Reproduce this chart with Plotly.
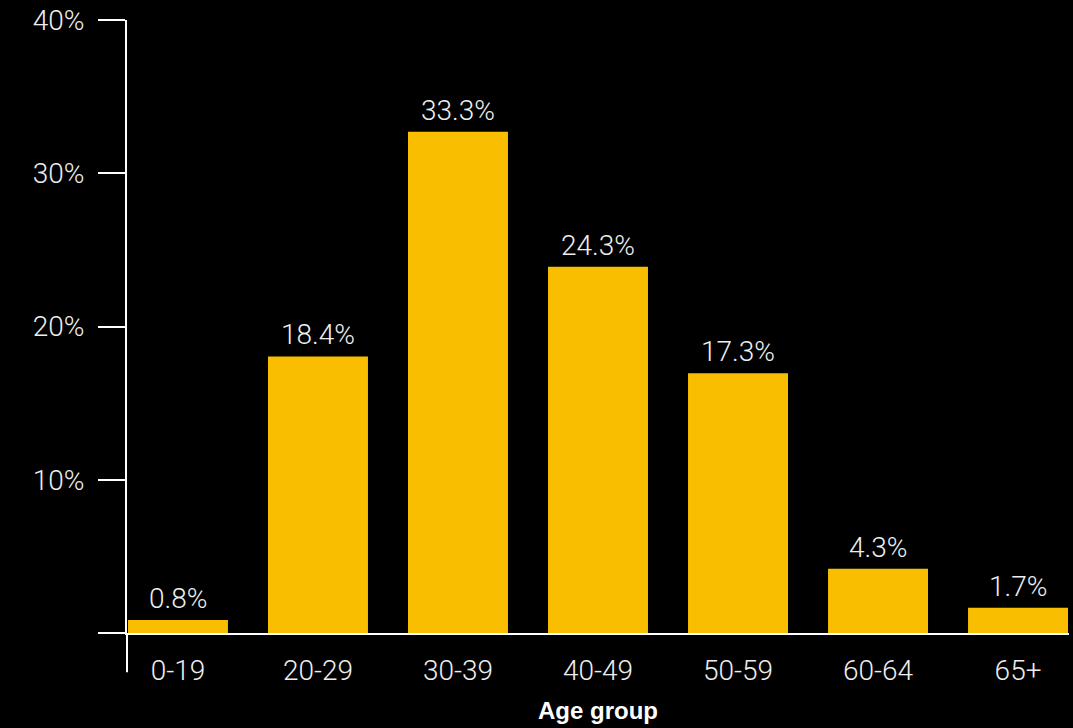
import plotly.graph_objects as go

# Share of respondents by age group
age_groups = ['0-19', '20-29', '30-39', '40-49', '50-59', '60-64', '65+']
bar_values = [0.85, 18.05, 32.7, 23.9, 16.95, 4.2, 1.65]
bar_labels = ['0.8%', '18.4%', '33.3%', '24.3%', '17.3%', '4.3%', '1.7%']
y_ticks = [0, 10, 20, 30, 40]
y_tick_text = ['', '10%', '20%', '30%', '40%']

BAR_COLOR = '#F9BE00'
TEXT_COLOR = '#EEEEEE'
LIGHT_FONT = dict(family='Roboto, Lato, Liberation Sans, sans-serif', size=28,
                  color=TEXT_COLOR, weight=300)

fig = go.Figure()

fig.add_trace(go.Bar(
    x=age_groups,
    y=bar_values,
    marker=dict(color=BAR_COLOR, line=dict(width=0)),
    hoverinfo='skip',
))

# value labels above each bar
for grp, val, lab in zip(age_groups, bar_values, bar_labels):
    fig.add_annotation(
        x=grp, y=val, text=lab,
        showarrow=False, yanchor='bottom', yshift=3,
        font=LIGHT_FONT,
    )

# y axis line runs a bit below the baseline
fig.add_shape(
    type='line', xref='paper', yref='paper',
    x0=0, x1=0, y0=0, y1=-0.064,
    line=dict(color='white', width=2),
)

fig.update_layout(
    width=1073,
    height=728,
    paper_bgcolor='black',
    plot_bgcolor='black',
    margin=dict(l=127, r=4, t=18, b=95),
    bargap=0.286,
    showlegend=False,
    xaxis=dict(
        range=[-0.364, 6.364],
        showline=True, linecolor='white', linewidth=2,
        ticks='outside', ticklen=11, tickcolor='rgba(0,0,0,0)',
        tickfont=LIGHT_FONT,
        showgrid=False, zeroline=False,
        title=dict(text='<b>Age group</b>', standoff=17,
                   font=dict(family='Liberation Sans, Arial, sans-serif', size=24, color='white')),
    ),
    yaxis=dict(
        range=[0, 40],
        tickvals=y_ticks, ticktext=y_tick_text,
        showline=True, linecolor='white', linewidth=2,
        ticks='outside', ticklen=27, tickwidth=2, tickcolor='white',
        ticklabelstandoff=8,
        tickfont=LIGHT_FONT,
        showgrid=False, zeroline=False,
    ),
)

# drop the default page margin so the figure sits flush in the window
fig.write_html("out.html", config=dict(displayModeBar=False),
               post_script="document.body.style.margin='0';")
